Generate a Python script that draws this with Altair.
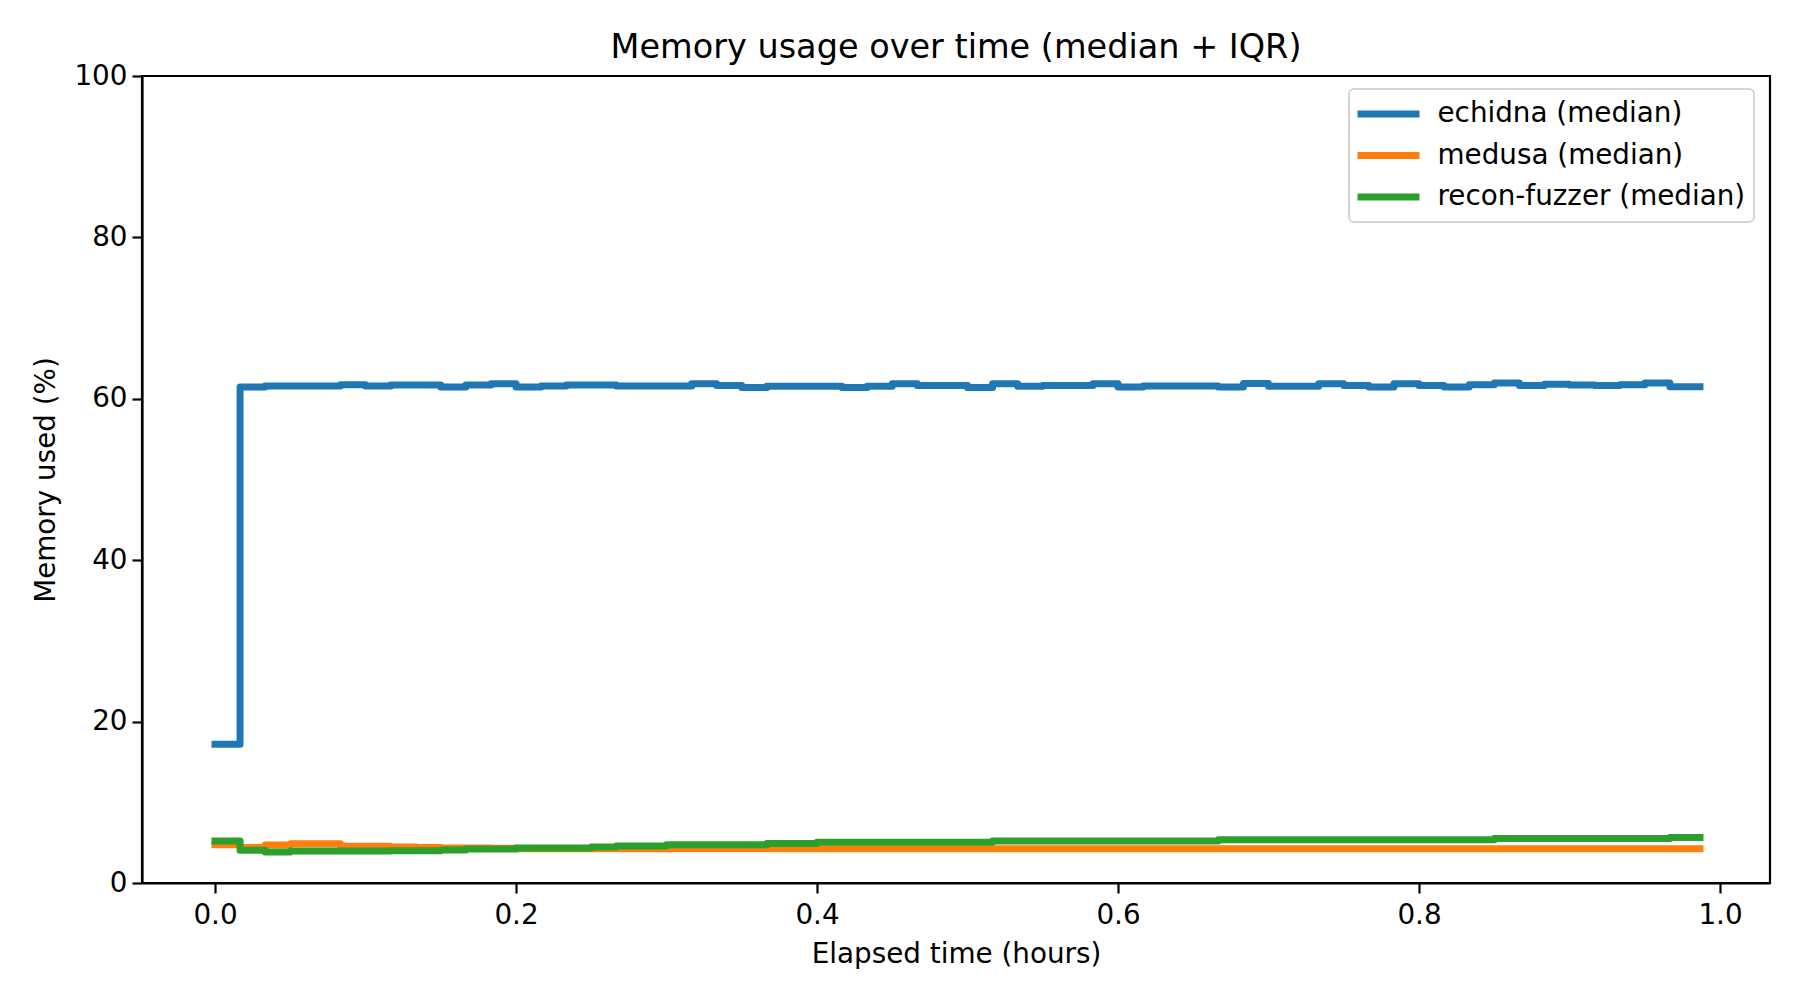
import altair as alt
import pandas as pd

# Elapsed time of each sample, in minutes
ELAPSED_MIN = [0, 1, 2, 3, 4, 5, 6, 7, 8, 9,
               10, 11, 12, 13, 14, 15, 16, 17, 18, 19,
               20, 21, 22, 23, 24, 25, 26, 27, 28, 29,
               30, 31, 32, 33, 34, 35, 36, 37, 38, 39,
               40, 41, 42, 43, 44, 45, 46, 47, 48, 49,
               50, 51, 52, 53, 54, 55, 56, 57, 58, 59.2]

ECHIDNA = [17.2, 61.45, 61.6, 61.6, 61.6, 61.75, 61.6, 61.7, 61.7, 61.45,
           61.7, 61.85, 61.45, 61.6, 61.7, 61.7, 61.6, 61.6, 61.6, 61.85,
           61.65, 61.4, 61.55, 61.55, 61.55, 61.4, 61.55, 61.85, 61.65, 61.65,
           61.4, 61.85, 61.55, 61.65, 61.65, 61.85, 61.45, 61.6, 61.6, 61.6,
           61.45, 61.9, 61.55, 61.55, 61.85, 61.65, 61.45, 61.85, 61.65, 61.45,
           61.75, 61.95, 61.65, 61.8, 61.7, 61.65, 61.75, 61.95, 61.5, 61.5]

MEDUSA = [4.75, 4.4, 4.7, 4.85, 4.85, 4.55, 4.55, 4.45, 4.4, 4.35,
          4.35, 4.3, 4.25, 4.25, 4.25, 4.25, 4.25, 4.25, 4.25, 4.25,
          4.25, 4.25, 4.25, 4.25, 4.25, 4.25, 4.25, 4.25, 4.25, 4.25,
          4.25, 4.25, 4.25, 4.25, 4.25, 4.25, 4.25, 4.25, 4.25, 4.25,
          4.25, 4.25, 4.25, 4.25, 4.25, 4.25, 4.25, 4.25, 4.25, 4.25,
          4.25, 4.25, 4.25, 4.25, 4.25, 4.25, 4.25, 4.25, 4.25, 4.25]

RECON = [5.2, 4.05, 3.85, 3.95, 3.95, 3.95, 3.95, 4.0, 4.0, 4.1,
         4.2, 4.2, 4.35, 4.35, 4.35, 4.45, 4.6, 4.6, 4.75, 4.75,
         4.75, 4.75, 4.9, 4.9, 5.05, 5.05, 5.05, 5.05, 5.05, 5.05,
         5.05, 5.2, 5.2, 5.2, 5.2, 5.2, 5.2, 5.2, 5.2, 5.2,
         5.35, 5.35, 5.35, 5.35, 5.35, 5.35, 5.35, 5.35, 5.35, 5.35,
         5.35, 5.5, 5.5, 5.5, 5.5, 5.5, 5.5, 5.5, 5.65, 5.65]

SERIES = ["echidna (median)", "medusa (median)", "recon-fuzzer (median)"]
COLORS = ["#1f77b4", "#ff7f0e", "#2ca02c"]
X_TICKS = [0.0, 0.2, 0.4, 0.6, 0.8, 1.0]
Y_TICKS = [0, 20, 40, 60, 80, 100]

rows = []
for name, vals in zip(SERIES, [ECHIDNA, MEDUSA, RECON]):
    for order, (m, v) in enumerate(zip(ELAPSED_MIN, vals)):
        rows.append({"series": name, "hours": m / 60.0, "mem": v, "order": order})
df = pd.DataFrame(rows)

FONT = "DejaVu Sans"

chart = alt.Chart(df).mark_line(
    interpolate="step-after", strokeWidth=7, strokeJoin="round", strokeCap="square"
).encode(
    x=alt.X("hours:Q",
            scale=alt.Scale(domain=[-0.0485, 1.0332], nice=False, zero=False),
            axis=alt.Axis(title="Elapsed time (hours)", values=X_TICKS, format=".1f",
                          labelFlush=False, labelPadding=8, titlePadding=12)),
    y=alt.Y("mem:Q",
            scale=alt.Scale(domain=[0, 100], nice=False),
            axis=alt.Axis(title="Memory used (%)", values=Y_TICKS,
                          labelPadding=5, titlePadding=13)),
    color=alt.Color("series:N",
                    scale=alt.Scale(domain=SERIES, range=COLORS),
                    legend=alt.Legend(title=None, orient="none", legendX=1207, legendY=13,
                                      symbolType="stroke", symbolSize=3844,
                                      symbolStrokeWidth=7, symbolOffset=-3,
                                      clipHeight=34, rowPadding=7.5, labelOffset=14.5,
                                      labelFont=FONT, labelFontSize=27.8,
                                      labelColor="black", labelLimit=0,
                                      padding=8, fillColor="white",
                                      strokeColor="#d6d6d6",
                                      cornerRadius=5)),
    order="order:Q",
).properties(
    width=1628,
    height=807,
    title=alt.TitleParams("Memory usage over time (median + IQR)", font=FONT,
                          fontSize=33.5, fontWeight="normal", color="black",
                          anchor="middle", frame="group", offset=-3),
    autosize=alt.AutoSizeParams(type="none"),
    padding={"left": 134, "top": 68, "right": 22, "bottom": 101},
).configure_view(
    stroke="black", strokeWidth=2.2
).configure_axis(
    domainColor="black", domainWidth=2.2, tickColor="black", tickWidth=2.2,
    tickSize=10, grid=False, labelFont=FONT, labelFontSize=27.8, labelColor="black",
    titleFont=FONT, titleFontSize=27.8, titleFontWeight="normal", titleColor="black",
).configure_legend(
    strokeWidth=2
)

chart.save("out.html", embed_options={"renderer": "svg", "actions": False})
